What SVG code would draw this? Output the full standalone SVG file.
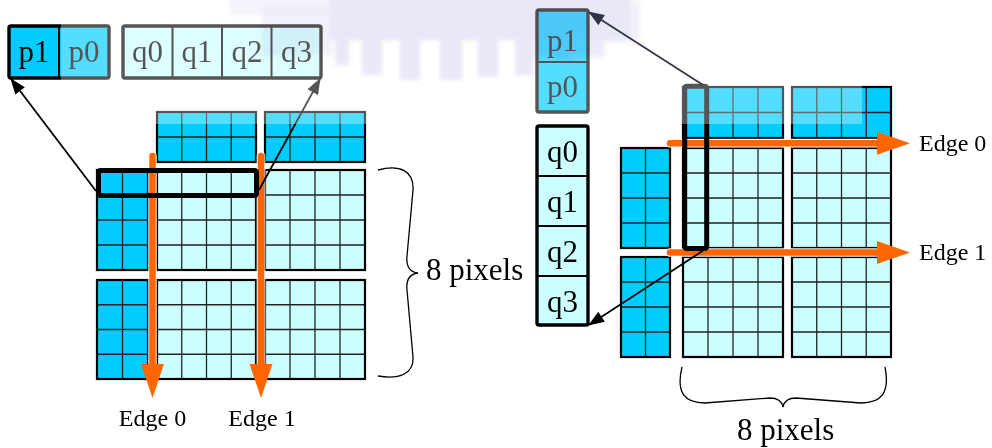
<svg xmlns="http://www.w3.org/2000/svg" width="992" height="448" viewBox="0 0 992 448">
  <defs>
    <style>
      .dk{fill:#00CCFF}
      .lt{fill:#CCFFFF}
      .gl{fill:none;stroke:#222;stroke-width:1.3}
      .bd{fill:none;stroke:#000;stroke-width:2.2}
      .box{stroke:#000;stroke-width:3.4}
      .div{stroke:#000;stroke-width:2}
      .lbl{font-family:"Liberation Serif","Times New Roman",serif;fill:#000}
      .reg{font-size:31px;text-anchor:middle}
      .edge{font-size:24px}
      .pix{font-size:31px}
      .hl{fill:none;stroke:#000;stroke-width:5}
      .or{stroke:#FF6600;stroke-width:6.5;stroke-linecap:round;fill:none}
      .orw{stroke:#FFFFFF;stroke-width:9;stroke-linecap:round;fill:none;stroke-opacity:0.7}
      .orh{fill:#FF6600}
      .veil{fill:#FFFFFF;fill-opacity:0.333}
      .ptr{stroke-width:1.8;fill:none}
      .brace{fill:none;stroke:#000;stroke-width:1.3}
      .wm{fill:#E2E2F5}
    </style>
    <marker id="ah" viewBox="0 0 16 12" refX="15" refY="6" markerWidth="17" markerHeight="12" markerUnits="userSpaceOnUse" orient="auto">
      <path d="M0,0 L16,6 L0,12 Z" fill="#000"/>
    </marker>
    <marker id="ah-grey" viewBox="0 0 16 12" refX="15" refY="6" markerWidth="17" markerHeight="12" markerUnits="userSpaceOnUse" orient="auto">
      <path d="M0,0 L16,6 L0,12 Z" fill="#555"/>
    </marker>
    <marker id="ah-slate" viewBox="0 0 16 12" refX="15" refY="6" markerWidth="17" markerHeight="12" markerUnits="userSpaceOnUse" orient="auto">
      <path d="M0,0 L16,6 L0,12 Z" fill="#363848"/>
    </marker>
    <!-- pointer that runs out of the faded area -->
    <linearGradient id="fadeLine" gradientUnits="userSpaceOnUse" x1="0" y1="79" x2="0" y2="190">
      <stop offset="0" stop-color="#555"/>
      <stop offset="0.405" stop-color="#555"/>
      <stop offset="0.405" stop-color="#000"/>
      <stop offset="1" stop-color="#000"/>
    </linearGradient>
    <filter id="soft" x="-10%" y="-10%" width="120%" height="120%">
      <feGaussianBlur stdDeviation="2"/>
    </filter>
  </defs>

  <!-- ===== Left: vertical edges ===== -->
  <g id="left-top-1"><rect class="dk" x="157" y="112" width="99" height="50"/><path class="gl" d="M181.75,112V162M206.5,112V162M231.25,112V162M157,137H256"/><rect class="bd" x="157" y="112" width="99" height="50"/></g>
  <g id="left-top-2"><rect class="dk" x="265" y="112" width="100" height="50"/><path class="gl" d="M290,112V162M315,112V162M340,112V162M265,137H365"/><rect class="bd" x="265" y="112" width="100" height="50"/></g>
  <g id="left-side-1"><rect class="dk" x="97" y="170" width="51" height="100"/><path class="gl" d="M122.5,170V270M97,195H148M97,220H148M97,245H148"/><rect class="bd" x="97" y="170" width="51" height="100"/></g>
  <g id="left-mb-1"><rect class="lt" x="157" y="170" width="99" height="100"/><path class="gl" d="M181.75,170V270M206.5,170V270M231.25,170V270M157,195H256M157,220H256M157,245H256"/><rect class="bd" x="157" y="170" width="99" height="100"/></g>
  <g id="left-mb-2"><rect class="lt" x="265" y="170" width="100" height="100"/><path class="gl" d="M290,170V270M315,170V270M340,170V270M265,195H365M265,220H365M265,245H365"/><rect class="bd" x="265" y="170" width="100" height="100"/></g>
  <g id="left-side-2"><rect class="dk" x="97" y="280" width="51" height="99"/><path class="gl" d="M122.5,280V379M97,304.75H148M97,329.5H148M97,354.25H148"/><rect class="bd" x="97" y="280" width="51" height="99"/></g>
  <g id="left-mb-3"><rect class="lt" x="157" y="280" width="99" height="99"/><path class="gl" d="M181.75,280V379M206.5,280V379M231.25,280V379M157,304.75H256M157,329.5H256M157,354.25H256"/><rect class="bd" x="157" y="280" width="99" height="99"/></g>
  <g id="left-mb-4"><rect class="lt" x="265" y="280" width="100" height="99"/><path class="gl" d="M290,280V379M315,280V379M340,280V379M265,304.75H365M265,329.5H365M265,354.25H365"/><rect class="bd" x="265" y="280" width="100" height="99"/></g>

  <!-- ===== Right: horizontal edges ===== -->
  <g id="right-top-1"><rect class="dk" x="683" y="87" width="100" height="51"/><path class="gl" d="M708,87V138M733,87V138M758,87V138M683,112.5H783"/><rect class="bd" x="683" y="87" width="100" height="51"/></g>
  <g id="right-top-2"><rect class="dk" x="792" y="87" width="99" height="51"/><path class="gl" d="M816.75,87V138M841.5,87V138M866.25,87V138M792,112.5H891"/><rect class="bd" x="792" y="87" width="99" height="51"/></g>
  <g id="right-side-1"><rect class="dk" x="621" y="148" width="49" height="100"/><path class="gl" d="M645.5,148V248M621,173H670M621,198H670M621,223H670"/><rect class="bd" x="621" y="148" width="49" height="100"/></g>
  <g id="right-mb-1"><rect class="lt" x="683" y="148" width="100" height="100"/><path class="gl" d="M708,148V248M733,148V248M758,148V248M683,173H783M683,198H783M683,223H783"/><rect class="bd" x="683" y="148" width="100" height="100"/></g>
  <g id="right-mb-2"><rect class="lt" x="792" y="148" width="99" height="100"/><path class="gl" d="M816.75,148V248M841.5,148V248M866.25,148V248M792,173H891M792,198H891M792,223H891"/><rect class="bd" x="792" y="148" width="99" height="100"/></g>
  <g id="right-side-2"><rect class="dk" x="621" y="257" width="49" height="100"/><path class="gl" d="M645.5,257V357M621,282H670M621,307H670M621,332H670"/><rect class="bd" x="621" y="257" width="49" height="100"/></g>
  <g id="right-mb-3"><rect class="lt" x="683" y="257" width="100" height="100"/><path class="gl" d="M708,257V357M733,257V357M758,257V357M683,282H783M683,307H783M683,332H783"/><rect class="bd" x="683" y="257" width="100" height="100"/></g>
  <g id="right-mb-4"><rect class="lt" x="792" y="257" width="99" height="100"/><path class="gl" d="M816.75,257V357M841.5,257V357M866.25,257V357M792,282H891M792,307H891M792,332H891"/><rect class="bd" x="792" y="257" width="99" height="100"/></g>

  <!-- orange edge arrows -->
  <g id="edges">
    <path class="orw" d="M152.5,156V366M261,156V366M670,143.3H879M670,252.5H879"/>
    <path class="or" d="M152.5,156V366M261,156V366M670,143.3H879M670,252.5H879"/>
    <path class="orh" d="M141,364H164L152.5,398ZM249.5,364H272.5L261,398ZM877,131.8V154.8L910,143.3ZM877,241V264L910,252.5Z"/>
  </g>

  <!-- selected pixel rows / columns -->
  <g id="left-select"><rect class="hl" x="98.5" y="170.5" width="158" height="25" rx="2"/></g>
  <g id="right-select"><rect class="hl" x="684.7" y="86.2" width="22" height="162.3" rx="2"/></g>

  <!-- p / q sample registers -->
  <g id="left-p">
    <rect class="dk box" x="9" y="26" width="100" height="52" rx="2"/>
    <path class="div" d="M59,26V78"/>
    <text class="lbl reg" x="34" y="61.5">p1</text>
    <text class="lbl reg" x="84" y="61.5">p0</text>
  </g>
  <g id="left-q">
    <rect class="lt box" x="123" y="26" width="198" height="52" rx="2"/>
    <path class="div" d="M172.5,26V78M222,26V78M271.5,26V78"/>
    <text class="lbl reg" x="147.5" y="62">q0</text>
    <text class="lbl reg" x="197" y="62">q1</text>
    <text class="lbl reg" x="247" y="62">q2</text>
    <text class="lbl reg" x="296.5" y="62">q3</text>
  </g>
  <g id="right-p">
    <rect class="dk box" x="537" y="10" width="51" height="102" rx="2"/>
    <path class="div" d="M537,62H588"/>
    <text class="lbl reg" x="562.5" y="51">p1</text>
    <text class="lbl reg" x="562.5" y="97">p0</text>
  </g>
  <g id="right-q">
    <rect class="lt box" x="537" y="126" width="51" height="199" rx="2"/>
    <path class="div" d="M537,176H588M537,226H588M537,276H588"/>
    <text class="lbl reg" x="562.5" y="162">q0</text>
    <text class="lbl reg" x="562.5" y="211.5">q1</text>
    <text class="lbl reg" x="562.5" y="261.5">q2</text>
    <text class="lbl reg" x="562.5" y="311.5">q3</text>
  </g>

  <!-- faded (already filtered) samples -->
  <g id="fade">
    <rect class="veil" x="61" y="18" width="307" height="106"/>
    <rect class="veil" x="534" y="6" width="328" height="118"/>
  </g>

  <!-- pointers from the selection to the registers -->
  <g id="connectors">
    <line class="ptr" stroke="#000" x1="96" y1="191" x2="11" y2="79" marker-end="url(#ah)"/>
    <line class="ptr" stroke="url(#fadeLine)" x1="259" y1="190" x2="320" y2="79" marker-end="url(#ah-grey)"/>
    <line class="ptr" stroke="#363848" x1="703" y1="85" x2="589" y2="12" marker-end="url(#ah-slate)"/>
    <line class="ptr" stroke="#000" x1="704" y1="250" x2="589" y2="325" marker-end="url(#ah)"/>
  </g>

  <!-- size braces and labels -->
  <g id="left-brace">
    <path class="brace" d="M378,170C400,164 414,171 413,190L407,256C406,266 410,272 418,273C410,274 406,280 407,290L413,357C414,373 400,380 378,376"/>
    <text class="lbl pix" x="426" y="280">8 pixels</text>
  </g>
  <g id="bottom-brace">
    <path class="brace" d="M682,367C676,392 684,403 705,403L770,398C778,398 782,402 783,407C784,402 788,398 796,398L861,403C882,403 890,392 885,367"/>
    <text class="lbl pix" x="737" y="440">8 pixels</text>
  </g>
  <g id="edge-labels">
    <text class="lbl edge" x="152.5" y="425.5" text-anchor="middle">Edge 0</text>
    <text class="lbl edge" x="262" y="425.5" text-anchor="middle">Edge 1</text>
    <text class="lbl edge" x="919" y="151">Edge 0</text>
    <text class="lbl edge" x="919" y="260">Edge 1</text>
  </g>

  <!-- faint background emblem -->
  <g id="emblem" filter="url(#soft)" style="mix-blend-mode:multiply" opacity="0.8">
    <rect class="wm" x="230" y="-5" width="100" height="20" opacity="0.5"/>
    <rect class="wm" x="262" y="8" width="70" height="48" opacity="0.6"/>
    <rect class="wm" x="330" y="-5" width="300" height="45"/>
    <rect class="wm" x="525" y="5" width="80" height="52" opacity="0.8"/>
    <rect class="wm" x="600" y="0" width="40" height="42" opacity="0.6"/>
    <rect class="wm" x="335" y="35" width="14" height="30"/>
    <rect class="wm" x="362" y="35" width="20" height="40"/>
    <rect class="wm" x="400" y="35" width="20" height="45"/>
    <rect class="wm" x="440" y="35" width="22" height="45"/>
    <rect class="wm" x="478" y="35" width="20" height="42"/>
    <rect class="wm" x="515" y="35" width="18" height="40"/>
    <rect class="wm" x="555" y="35" width="14" height="25"/>
  </g>
</svg>
